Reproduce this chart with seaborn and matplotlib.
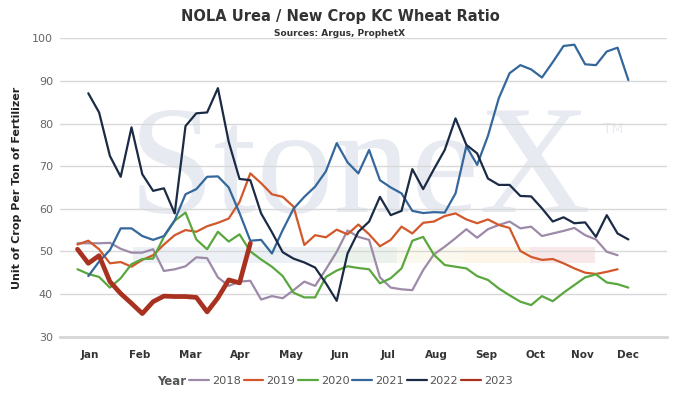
import numpy as np
import pandas as pd
import matplotlib
matplotlib.use("Agg")
import matplotlib.pyplot as plt
from matplotlib.lines import Line2D
from matplotlib.patches import Rectangle
import seaborn as sns

# ---------------- data ----------------
years = ["2018", "2019", "2020", "2021", "2022", "2023"]

weeks_2018 = list(range(1, 52))
vals_2018 = [51.9, 51.9, 51.9, 52.0, 50.6, 49.7, 49.7, 50.5, 45.4, 45.8,
             46.5, 48.6, 48.4, 43.9, 41.9, 42.9, 43.1, 38.7, 39.5, 39.0,
             40.9, 42.9, 41.9, 45.8, 49.9, 54.9, 53.4, 52.7, 43.9, 41.5,
             41.1, 40.9, 45.6, 49.3, 51.1, 53.1, 55.2, 53.2, 55.2, 56.2,
             57.0, 55.4, 55.8, 53.6, 54.2, 54.8, 55.5, 53.8, 52.8, 49.9, 49.1]

weeks_2019 = list(range(1, 52))
vals_2019 = [51.6, 52.5, 50.5, 47.2, 47.5, 46.4, 48.0, 49.1, 51.6, 53.8,
             55.0, 54.6, 55.9, 56.7, 57.7, 61.6, 68.3, 66.0, 63.4, 62.8,
             60.5, 51.5, 53.8, 53.3, 55.1, 54.0, 56.3, 54.0, 51.2, 52.7,
             55.8, 54.2, 56.7, 57.0, 58.3, 58.9, 57.5, 56.6, 57.5, 56.2,
             55.5, 50.1, 48.7, 48.0, 48.2, 47.2, 46.0, 45.0, 44.7, 45.2, 45.8]

weeks_2020 = list(range(1, 53))
vals_2020 = [45.8, 44.7, 44.0, 41.5, 43.7, 47.0, 48.2, 48.3, 53.4, 57.2,
             59.1, 52.8, 50.5, 54.6, 52.3, 54.0, 50.0, 48.1, 46.4, 44.2,
             40.3, 39.2, 39.2, 44.0, 45.5, 46.5, 46.1, 45.8, 42.5, 43.7,
             46.0, 52.5, 53.4, 49.2, 46.8, 46.4, 46.0, 44.2, 43.3, 41.3,
             39.7, 38.2, 37.4, 39.5, 38.3, 40.3, 42.1, 43.9, 44.6, 42.7,
             42.3, 41.5]

weeks_2021 = list(range(2, 53))
vals_2021 = [44.2, 47.6, 50.3, 55.4, 55.4, 53.6, 52.7, 53.6, 57.3, 63.4,
             64.6, 67.5, 67.6, 65.0, 59.0, 52.5, 52.7, 49.5, 55.0, 60.0,
             62.8, 65.2, 68.8, 75.4, 70.9, 68.3, 73.8, 66.7, 65.0, 63.6,
             59.5, 59.0, 59.2, 59.1, 63.6, 74.7, 70.3, 77.1, 85.9, 91.8,
             93.7, 92.7, 90.8, 94.4, 98.2, 98.5, 93.9, 93.7, 96.9, 97.8, 90.2]

weeks_2022 = list(range(2, 53))
vals_2022 = [87.1, 82.6, 72.4, 67.5, 79.1, 68.1, 64.2, 64.8, 58.9, 79.4,
             82.4, 82.6, 88.3, 75.7, 67.0, 66.7, 58.9, 54.5, 49.8, 48.3,
             47.4, 46.2, 42.5, 38.4, 49.5, 54.6, 57.0, 62.8, 58.5, 59.5,
             69.3, 64.6, 69.3, 73.8, 81.2, 75.0, 73.0, 67.1, 65.6, 65.6,
             63.0, 62.9, 60.1, 57.0, 58.0, 56.6, 56.8, 53.4, 58.5, 54.2, 52.8]

weeks_2023 = list(range(1, 18))
vals_2023 = [50.5, 47.2, 49.0, 42.9, 40.1, 37.8, 35.4, 38.2, 39.5, 39.4,
             39.4, 39.2, 35.8, 39.1, 43.3, 42.6, 51.9]

months = ["Jan", "Feb", "Mar", "Apr", "May", "Jun",
          "Jul", "Aug", "Sep", "Oct", "Nov", "Dec"]
y_ticks = [30, 40, 50, 60, 70, 80, 90, 100]

title = "NOLA Urea / New Crop KC Wheat Ratio"
subtitle = "Sources: Argus, ProphetX"
y_label = "Unit of Crop Per Ton of Fertilizer"

# ---------------- styling ----------------
colors = {"2018": "#9d8aa9", "2019": "#d2582b", "2020": "#5aa73f",
          "2021": "#34679c", "2022": "#1b2b45", "2023": "#a8321f"}
widths = {"2018": 1.6, "2019": 1.6, "2020": 1.6, "2021": 1.6, "2022": 1.6, "2023": 3.4}
month_pos = [2.16, 6.8, 11.48, 16.05, 20.77, 25.3, 29.72, 34.26, 38.82, 43.36, 47.74, 51.94]

frames = []
for yr, wk, vl in [("2018", weeks_2018, vals_2018), ("2019", weeks_2019, vals_2019),
                   ("2020", weeks_2020, vals_2020), ("2021", weeks_2021, vals_2021),
                   ("2022", weeks_2022, vals_2022), ("2023", weeks_2023, vals_2023)]:
    frames.append(pd.DataFrame({"week": wk, "value": vl, "Year": yr}))
df = pd.concat(frames, ignore_index=True)

sns.set_style("white")
plt.rcParams["font.family"] = ["DejaVu Sans"]

W, H = 697, 411
fig = plt.figure(figsize=(W / 100, H / 100), dpi=100)
L, R, T, B = 60, 666.7, 38.3, 336.6
ax = fig.add_axes([L / W, 1 - B / H, (R - L) / W, (B - T) / H])
ax.set_facecolor("white")

# watermark
ax.text((360 - L) / (R - L), (B - 212) / (B - T), "StoneX", transform=ax.transAxes,
        ha="center", va="baseline", fontsize=111, family="Liberation Serif",
        color="#e7ebf1", zorder=0.1)
ax.text((603 - L) / (R - L), (B - 133) / (B - T), "TM", transform=ax.transAxes,
        ha="left", va="baseline", fontsize=10, color="#e7ebf1", zorder=0.1)
band_edges = [133, 330, 397, 463, 530, 595]
band_cols = ["#edf1f6", "#ebf2ec", "#fbf9ed", "#fdf5e8", "#f9e8ea"]
for i, c in enumerate(band_cols):
    x0 = (band_edges[i] - L) / (R - L)
    x1 = (band_edges[i + 1] - L) / (R - L)
    ax.add_patch(Rectangle((x0, (B - 263) / (B - T)), x1 - x0, 16 / (B - T),
                           transform=ax.transAxes, color=c, zorder=0.2, lw=0))

for yr in years:
    sub = df[df["Year"] == yr]
    sns.lineplot(data=sub, x="week", y="value", ax=ax, color=colors[yr],
                 linewidth=widths[yr], legend=False, zorder=3,
                 solid_joinstyle="round", solid_capstyle="round")

ax.set_xlim(-0.62, 55.55)
ax.set_ylim(30, 100)
ax.set_yticks(y_ticks)
ax.yaxis.grid(True, color="#d8d8d8", linewidth=1.0, zorder=0.5)
ax.set_axisbelow(True)
ax.set_xticks(month_pos)
ax.set_xticklabels(months, fontsize=7.5, fontweight="bold", color="#333333")
ax.tick_params(axis="x", length=0, pad=10)
ax.tick_params(axis="y", length=0, pad=5, labelsize=8, labelcolor="#666666")
for s in ["top", "right", "left"]:
    ax.spines[s].set_visible(False)
ax.spines["bottom"].set_color("#d6d6d6")
ax.spines["bottom"].set_linewidth(2)
ax.set_xlabel("")
ax.set_ylabel(y_label, fontsize=8, fontweight="bold", color="#222222", labelpad=7)

fig.text(340 / W, 1 - 17 / H, title, ha="center", va="center",
         fontsize=10.5, fontweight="bold", color="#333333")
fig.text(340 / W, 1 - 34 / H, subtitle, ha="center", va="center",
         fontsize=6.5, fontweight="bold", color="#333333")

handles = [Line2D([0], [0], color=colors[y], lw=1.6) for y in years]
fig.legend(handles, years, loc="center left", bbox_to_anchor=(189 / W, 1 - 381 / H),
           ncol=6, frameon=False, fontsize=8.2, handlelength=1.75,
           handletextpad=0.25, columnspacing=0.25, labelcolor="#555555",
           borderpad=0, borderaxespad=0)
fig.text(186 / W, 1 - 381 / H, "Year", ha="right", va="center",
         fontsize=8.5, fontweight="bold", color="#555555")

fig.savefig("out.png", dpi=100)
